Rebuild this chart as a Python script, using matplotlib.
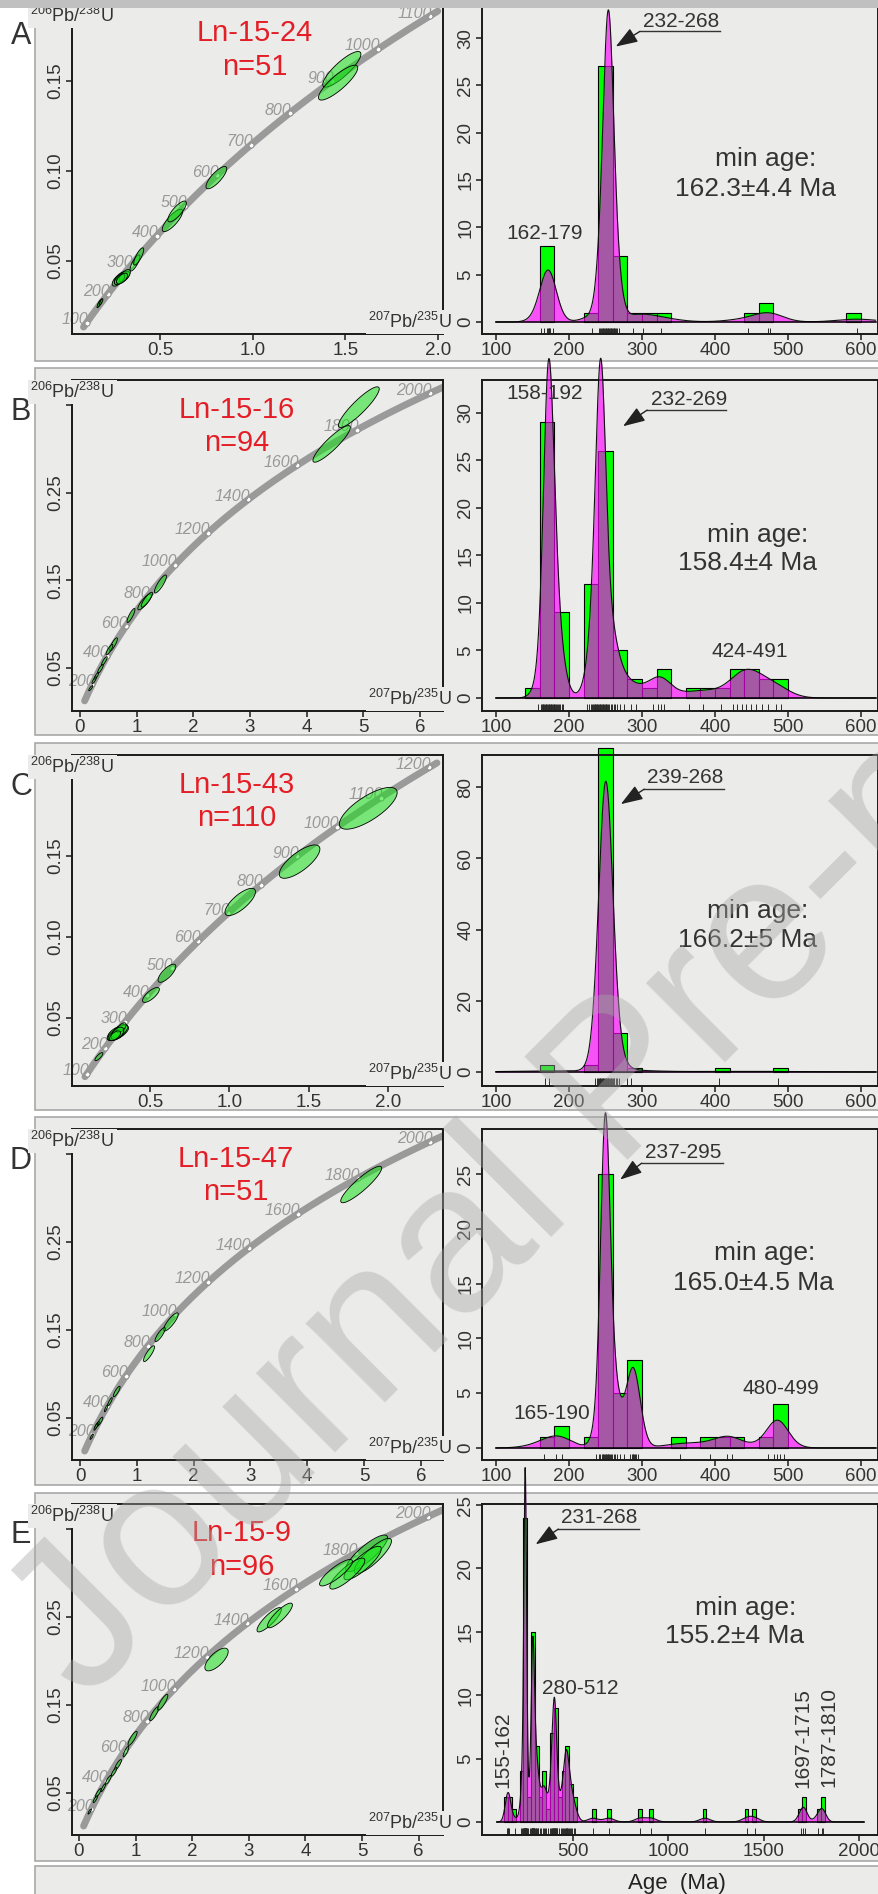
import numpy as np
import matplotlib
matplotlib.use('Agg')
import matplotlib.pyplot as plt
from matplotlib.patches import Rectangle

plt.rcParams['font.family'] = ['Liberation Sans', 'DejaVu Sans']
plt.rcParams['mathtext.fontset'] = 'custom'
plt.rcParams['mathtext.rm'] = 'Liberation Sans'
plt.rcParams['mathtext.it'] = 'Liberation Sans:italic'

W, H = 879, 1894

# ---------------- data ----------------
SAMPLES = ['Ln-15-24', 'Ln-15-16', 'Ln-15-43', 'Ln-15-47', 'Ln-15-9']
N_GRAINS = [51, 94, 110, 51, 96]
MIN_AGES = ['162.3±4.4 Ma', '158.4±4 Ma', '166.2±5 Ma', '165.0±4.5 Ma', '155.2±4 Ma']
MAIN_PEAKS = ['232-268', '232-269', '239-268', '237-295', '231-268']

# detrital zircon ages (Ma) and number of grains at each age
AGES_A = [162, 166, 170, 171, 172, 173, 174, 178, 232,
          241, 243, 244, 245, 246, 247, 248, 249, 250, 251, 252, 253, 254, 255, 256, 257, 258, 259,
          260, 261, 262, 263, 265, 266, 268, 288, 301, 326, 445, 472, 476, 594]
MULT_A = [1, 1, 1, 1, 1, 1, 1, 1, 1,
          1, 1, 1, 1, 1, 1, 1, 1, 2, 2, 2, 2, 2, 2, 2, 2, 2, 1,
          1, 1, 1, 1, 1, 1, 1, 1, 1, 1, 1, 1, 1, 1]

AGES_B = [157, 161, 163, 164, 165, 166, 167, 168, 169, 170, 171, 172, 173, 174, 175, 176, 177, 178, 179,
          180, 181, 182, 183, 185, 186, 188, 190, 192,
          225, 228, 230, 232, 233, 234, 235, 236, 237, 238, 239,
          240, 241, 242, 243, 244, 245, 246, 247, 248, 249, 250, 251, 252, 253, 255, 257, 259,
          261, 263, 266, 270, 276, 285, 292, 315, 322, 326, 330, 365, 384, 408,
          424, 430, 437, 443, 450, 456, 464, 472, 483, 491]
MULT_B = [1, 1, 1, 1, 1, 1, 2, 2, 2, 2, 2, 2, 2, 2, 2, 1, 2, 1, 2,
          1, 1, 1, 1, 1, 1, 1, 1, 1,
          1, 1, 1, 1, 1, 1, 1, 1, 1, 1, 2,
          2, 2, 2, 2, 2, 2, 2, 2, 2, 1, 1, 1, 1, 1, 1, 1, 1,
          1, 1, 1, 1, 1, 1, 1, 1, 1, 1, 1, 1, 1, 1,
          1, 1, 1, 1, 1, 1, 1, 1, 1, 1]

AGES_C = [167, 172, 236, 239,
          240, 241, 242, 243, 244, 245, 246, 247, 248, 249, 250, 251, 252, 253, 254, 255, 256, 257, 258, 259,
          260, 261, 262, 264, 266, 268, 279, 285, 405, 486]
MULT_C = [1, 1, 1, 1,
          2, 2, 3, 3, 4, 5, 5, 6, 6, 7, 7, 7, 6, 6, 5, 5, 4, 3, 3, 2,
          3, 2, 2, 1, 1, 1, 1, 1, 1, 1]

AGES_D = [166, 182, 190, 237,
          241, 243, 245, 246, 247, 248, 249, 250, 251, 252, 253, 254, 255, 256, 258, 259,
          261, 263, 266, 270, 276, 284, 286, 287, 288, 289, 290, 292, 295,
          352, 393, 417, 423, 472, 481, 485, 489, 495]
MULT_D = [1, 1, 1, 1,
          1, 1, 2, 2, 2, 2, 2, 2, 2, 2, 2, 1, 1, 1, 1, 1,
          1, 1, 1, 1, 1, 1, 1, 1, 1, 1, 1, 1, 1,
          1, 1, 1, 1, 1, 1, 1, 1, 1]

AGES_E = [155, 158, 161, 162, 195, 228, 232, 236, 238,
          241, 243, 245, 246, 247, 248, 249, 250, 251, 252, 253, 254, 255, 257, 259,
          265, 272, 281, 283, 284, 285, 286, 287, 288, 289, 290, 291, 292, 293, 294, 296, 298,
          302, 305, 308, 311, 314, 318, 325, 334, 343, 348, 352, 357, 370,
          381, 385, 388, 391, 394, 396, 399, 400, 402, 404, 405, 407, 409, 411, 414, 418,
          425, 435, 444, 449, 453, 458, 461, 464, 467, 470, 474, 478, 483, 489, 496, 505, 512,
          605, 688, 852, 910, 1192, 1412, 1452, 1697, 1708, 1715, 1787, 1805, 1810]
MULT_E = [1, 1, 1, 1, 1, 1, 1, 1, 1,
          1, 1, 2, 2, 2, 2, 2, 2, 2, 2, 2, 1, 1, 1, 1,
          1, 1, 1, 1, 1, 1, 1, 1, 1, 1, 1, 1, 1, 1, 1, 1, 1,
          1, 1, 1, 1, 1, 1, 1, 1, 1, 1, 1, 1, 1,
          1, 1, 1, 1, 1, 1, 1, 1, 1, 1, 1, 1, 1, 1, 1, 1,
          1, 1, 1, 1, 1, 1, 1, 1, 1, 1, 1, 1, 1, 1, 1, 1, 1,
          1, 1, 1, 1, 1, 1, 1, 1, 1, 1, 1, 1, 1]

# concordia error ellipses: 207Pb/235U, 206Pb/238U, half-extent x, half-extent y, rho
ELL_A = [(1.481, 0.1565, 0.103, 0.0099, 0.85), (1.461, 0.1491, 0.106, 0.0097, 0.85),
         (0.804, 0.0963, 0.056, 0.0062, 0.8), (0.567, 0.0725, 0.055, 0.0062, 0.8),
         (0.592, 0.0775, 0.050, 0.0058, 0.8), (0.365, 0.0489, 0.027, 0.0045, 0.8),
         (0.385, 0.0525, 0.027, 0.0048, 0.8), (0.272, 0.0392, 0.030, 0.0032, 0.6),
         (0.288, 0.0405, 0.035, 0.0035, 0.6), (0.300, 0.0410, 0.035, 0.0033, 0.6),
         (0.310, 0.0418, 0.030, 0.0034, 0.6), (0.282, 0.0398, 0.028, 0.0030, 0.6),
         (0.295, 0.0402, 0.030, 0.0030, 0.6), (0.176, 0.0267, 0.012, 0.0022, 0.8),
         (0.170, 0.0260, 0.010, 0.0020, 0.8), (0.182, 0.0272, 0.010, 0.0018, 0.8)]
ELL_B = [(4.92, 0.348, 0.36, 0.0232, 0.9), (4.44, 0.306, 0.33, 0.0209, 0.9),
         (1.42, 0.146, 0.106, 0.0103, 0.85), (1.14, 0.1256, 0.12, 0.0091, 0.85),
         (1.18, 0.128, 0.10, 0.0085, 0.85), (0.90, 0.110, 0.07, 0.008, 0.85),
         (0.59, 0.077, 0.07, 0.0075, 0.85), (0.52, 0.071, 0.06, 0.006, 0.85),
         (0.43, 0.058, 0.05, 0.005, 0.85), (0.36, 0.049, 0.05, 0.005, 0.85),
         (0.29, 0.041, 0.04, 0.004, 0.85), (0.25, 0.036, 0.04, 0.004, 0.85),
         (0.19, 0.027, 0.035, 0.003, 0.85)]
ELL_C = [(1.876, 0.1794, 0.182, 0.0129, 0.75), (1.443, 0.1465, 0.128, 0.0103, 0.75),
         (1.069, 0.1216, 0.096, 0.0084, 0.75), (0.607, 0.0776, 0.056, 0.0056, 0.75),
         (0.506, 0.0642, 0.053, 0.0046, 0.75), (0.290, 0.0400, 0.060, 0.0040, 0.6),
         (0.300, 0.0412, 0.065, 0.0043, 0.6), (0.310, 0.0420, 0.050, 0.0040, 0.6),
         (0.285, 0.0395, 0.050, 0.0035, 0.6), (0.320, 0.0440, 0.030, 0.0030, 0.6),
         (0.295, 0.0405, 0.040, 0.0038, 0.5), (0.280, 0.0390, 0.035, 0.0030, 0.6),
         (0.178, 0.0261, 0.025, 0.0025, 0.8)]
ELL_D = [(4.95, 0.315, 0.36, 0.0207, 0.9), (1.60, 0.159, 0.13, 0.0103, 0.85),
         (1.41, 0.1446, 0.09, 0.008, 0.85), (1.215, 0.123, 0.097, 0.009, 0.85),
         (0.646, 0.080, 0.06, 0.006, 0.85), (0.528, 0.0686, 0.04, 0.0045, 0.85),
         (0.46, 0.061, 0.03, 0.004, 0.85), (0.352, 0.046, 0.05, 0.005, 0.85),
         (0.30, 0.042, 0.04, 0.004, 0.85), (0.28, 0.040, 0.035, 0.004, 0.85),
         (0.206, 0.0287, 0.03, 0.003, 0.85)]
ELL_E = [(5.08, 0.322, 0.37, 0.0208, 0.85), (5.19, 0.319, 0.33, 0.020, 0.85),
         (5.01, 0.311, 0.33, 0.019, 0.85), (4.74, 0.299, 0.31, 0.0176, 0.85),
         (4.54, 0.300, 0.29, 0.015, 0.85), (3.36, 0.2466, 0.215, 0.0138, 0.85),
         (3.55, 0.2515, 0.22, 0.0140, 0.85), (2.43, 0.2015, 0.206, 0.0129, 0.7),
         (1.33, 0.140, 0.08, 0.008, 0.85), (1.48, 0.153, 0.09, 0.009, 0.85),
         (0.947, 0.112, 0.08, 0.008, 0.85), (0.83, 0.097, 0.05, 0.006, 0.85),
         (0.69, 0.082, 0.06, 0.006, 0.85), (0.62, 0.074, 0.05, 0.005, 0.85),
         (0.52, 0.065, 0.05, 0.005, 0.85), (0.43, 0.056, 0.04, 0.0045, 0.85),
         (0.34, 0.050, 0.05, 0.005, 0.85), (0.29, 0.043, 0.04, 0.004, 0.85),
         (0.19, 0.029, 0.03, 0.003, 0.85)]

# ---------------- layout (pixels of the 879x1894 figure) ----------------
ROWS = [
    dict(letter='A', letter_y=36, box=(-2, 361), top=4, bot=334, red_y=(33, 67), red_x=255,
         cxlim=(0.025, 2.027), cylim=(0.0094, 0.1928), cxt=[0.5, 1.0, 1.5, 2.0], cyt=[0.05, 0.10, 0.15],
         cyl=['0.05', '0.10', '0.15'], tspan=(85, 1115), lab_ages=list(range(100, 1101, 100)),
         hxlim=(80.8, 623.3), hylim=(-1.27, 33.6), hyt=[0, 5, 10, 15, 20, 25, 30],
         hxt=[100, 200, 300, 400, 500, 600], gend=620, h=8,
         peaks=[('162-179', 166, 9.4, 0)], main=(301.8, 31.8, 297, 407, 30.7, 264, 29.1),
         minpos=((470, 17.2), (456, 14.1))),
    dict(letter='B', letter_y=412, box=(368, 735), top=380, bot=711, red_y=(410, 443), red_x=236.5,
         cxlim=(-0.141, 6.405), cylim=(0.0009, 0.379), cxt=[0, 1, 2, 3, 4, 5, 6], cyt=[0.05, 0.15, 0.25, 0.35],
         cyl=['0.05', '0.15', '0.25', ''], tspan=(80, 2040), lab_ages=list(range(200, 2001, 200)),
         hxlim=(80.8, 623.3), hylim=(-1.37, 33.47), hyt=[0, 5, 10, 15, 20, 25, 30],
         hxt=[100, 200, 300, 400, 500, 600], gend=620, h=7,
         peaks=[('158-192', 167, 32.1, 0), ('424-491', 448, 4.9, 0)],
         main=(312, 31.4, 307, 415, 30.3, 274, 28.6), minpos=((459, 17.2), (444, 14.2))),
    dict(letter='C', letter_y=787, box=(743, 1110), top=755, bot=1086, red_y=(785, 818), red_x=237,
         cxlim=(0.0085, 2.347), cylim=(0.008, 0.2123), cxt=[0.5, 1.0, 1.5, 2.0], cyt=[0.05, 0.10, 0.15, 0.20],
         cyl=['0.05', '0.10', '0.15', ''], tspan=(88, 1215), lab_ages=list(range(100, 1201, 100)),
         hxlim=(80.8, 623.3), hylim=(-3.92, 89.0), hyt=[0, 20, 40, 60, 80],
         hxt=[100, 200, 300, 400, 500, 600], gend=620, h=9.5,
         peaks=[], main=(307, 82.7, 303, 413, 79.4, 271, 75.2), minpos=((459, 45.1), (444, 37.2))),
    dict(letter='D', letter_y=1161, box=(1117, 1485), top=1129, bot=1460, red_y=(1159, 1192), red_x=236,
         cxlim=(-0.141, 6.39), cylim=(0.0023, 0.378), cxt=[0, 1, 2, 3, 4, 5, 6], cyt=[0.05, 0.15, 0.25, 0.35],
         cyl=['0.05', '0.15', '0.25', ''], tspan=(80, 2040), lab_ages=list(range(200, 2001, 200)),
         hxlim=(80.8, 623.3), hylim=(-1.10, 29.12), hyt=[0, 5, 10, 15, 20, 25],
         hxt=[100, 200, 300, 400, 500, 600], gend=620, h=8,
         peaks=[('165-190', 176, 3.1, 0), ('480-499', 490, 5.4, 0)],
         main=(303.7, 27.0, 299.5, 411, 26.0, 270, 24.5), minpos=((467.5, 17.8), (452.5, 15.1))),
    dict(letter='E', letter_y=1535, box=(1493, 1861), top=1504, bot=1835, red_y=(1533, 1567), red_x=242,
         cxlim=(-0.123, 6.43), cylim=(0.0023, 0.378), cxt=[0, 1, 2, 3, 4, 5, 6], cyt=[0.05, 0.15, 0.25, 0.35],
         cyl=['0.05', '0.15', '0.25', ''], tspan=(80, 2040), lab_ages=list(range(200, 2001, 200)),
         hxlim=(22.7, 2099.6), hylim=(-1.03, 25.08), hyt=[0, 5, 10, 15, 20, 25],
         hxt=[500, 1000, 1500, 2000], gend=2025, h=10,
         peaks=[('280-512', 537, 10.5, 0), ('155-162', 132, 5.7, 90),
                ('1697-1715', 1706, 6.6, 90), ('1787-1810', 1842, 6.7, 90)],
         main=(437, 24.0, 423, 848, 23.1, 304, 21.9), minpos=((1404, 16.9), (1348, 14.7))),
]
AGES = [(AGES_A, MULT_A), (AGES_B, MULT_B), (AGES_C, MULT_C), (AGES_D, MULT_D), (AGES_E, MULT_E)]
ELLS = [ELL_A, ELL_B, ELL_C, ELL_D, ELL_E]

BG = '#ebecea'
TXT = '#333333'
L235, L238 = 9.8485e-4, 1.55125e-4


def concordia(t):
    return np.expm1(L235 * t), np.expm1(L238 * t)


def adaptive_kde(a, grid, h):
    def gauss(x, mu, s):
        z = (x[:, None] - mu[None, :]) / s[None, :]
        return np.exp(-0.5 * z * z) / (np.sqrt(2 * np.pi) * s[None, :])
    pilot = gauss(a, a, np.full(a.size, float(h))).mean(axis=1)
    g = np.exp(np.log(pilot).mean())
    lam = np.sqrt(g / pilot)
    return gauss(grid, a, h * lam).mean(axis=1)


fig = plt.figure(figsize=(W / 100, H / 100), dpi=100)
fig.patch.set_facecolor('white')


def px_axes(x0, y0, x1, y1):
    return fig.add_axes([x0 / W, 1 - y1 / H, (x1 - x0) / W, (y1 - y0) / H])


def fxy(px, py):
    return px / W, 1 - py / H


def style(ax):
    ax.set_facecolor('none')
    for s in ax.spines.values():
        s.set_linewidth(1.4)
        s.set_color('#1a1a1a')
    ax.tick_params(direction='out', length=4, width=1.1, labelsize=13.5, pad=1.5,
                   colors='#1a1a1a', labelcolor=TXT)


tt = np.linspace(0, 2 * np.pi, 90)

for i, r in enumerate(ROWS):
    # panel box
    y0, y1 = r['box']
    fig.add_artist(Rectangle(fxy(35, y1), (890 - 35) / W, (y1 - y0) / H, transform=fig.transFigure,
                             fc=BG, ec='#a8a8a8', lw=1.2, zorder=-5))
    fig.text(*fxy(21, r['letter_y']), r['letter'], fontsize=22, color=TXT, ha='center', va='center')

    # ---- concordia ----
    ax = px_axes(72, r['top'], 443, r['bot'])
    style(ax)
    t = np.linspace(r['tspan'][0], r['tspan'][1], 400)
    cx, cy = concordia(t)
    ax.plot(cx, cy, color='#9a9a9a', lw=5, solid_capstyle='round', zorder=1)
    la = np.array(r['lab_ages'], float)
    lx, ly = concordia(la)
    ax.plot(lx, ly, 'o', ms=3.6, mfc='white', mec='#8c8c8c', mew=0.7, zorder=2)
    for a, xx, yy in zip(r['lab_ages'], lx, ly):
        ax.annotate(str(a), (xx, yy), xytext=(1.5, -1), textcoords='offset points', ha='right',
                    va='baseline', fontsize=11.5, style='italic', color='#999999', zorder=2)
    for (ex0, ey0, sx, sy, rho) in ELLS[i]:
        ex = ex0 + sx * np.cos(tt)
        ey = ey0 + sy * (rho * np.cos(tt) + np.sqrt(1 - rho * rho) * np.sin(tt))
        ax.fill(ex, ey, fc=(0.1, 0.88, 0.1, 0.55), ec='black', lw=0.6, zorder=3)
    ax.set_xlim(*r['cxlim'])
    ax.set_ylim(*r['cylim'])
    ax.set_xticks(r['cxt'])
    ax.set_xticklabels([('%.1f' % v) if r['cxt'][0] == 0.5 else str(v) for v in r['cxt']])
    ax.set_yticks(r['cyt'])
    ax.set_yticklabels(r['cyl'], rotation=90, va='center')
    fig.text(*fxy(72.5, r['top'] + 12), r'$^{206}$Pb/$^{238}$U', fontsize=13, color=TXT,
             ha='center', va='center', bbox=dict(fc=BG, ec='none', pad=1.5))
    fig.text(*fxy(452, r['bot'] - 12), r'$^{207}$Pb/$^{235}$U', fontsize=13, color=TXT,
             ha='right', va='center', bbox=dict(fc=BG, ec='none', pad=1.5))
    fig.text(*fxy(r['red_x'], r['red_y'][0]), SAMPLES[i], fontsize=21, color='#e41e26',
             ha='center', va='center')
    fig.text(*fxy(r['red_x'], r['red_y'][1]), 'n=%d' % N_GRAINS[i], fontsize=21, color='#e41e26',
             ha='center', va='center')

    # ---- histogram + KDE ----
    hx = px_axes(482, r['top'], 878, r['bot'])
    style(hx)
    ages, mult = AGES[i]
    a = np.repeat(np.array(ages, float), mult)
    counts, edges = np.histogram(a, bins=np.arange(0, 2101, 20))
    nz = counts > 0
    hx.bar(edges[:-1][nz], counts[nz], width=20, align='edge', color='#00ff00', edgecolor='black',
           lw=0.8, zorder=2, clip_on=False)
    grid = np.linspace(100, r['gend'], 3000)
    dens = adaptive_kde(a, grid, r['h']) * a.size * 20
    hx.fill_between(grid, dens, color='#ff00ff', alpha=0.65, lw=0, zorder=3, clip_on=False)
    hx.plot(grid, dens, color='#111111', lw=0.8, zorder=4, clip_on=False)
    hx.plot([100, r['gend']], [0, 0], color='black', lw=1.1, zorder=4)
    hx.vlines(ages, r['hylim'][0], -0.02 * r['hylim'][1], colors='#2a2a2a', lw=0.7, zorder=1)
    hx.set_xlim(*r['hxlim'])
    hx.set_ylim(*r['hylim'])
    hx.set_xticks(r['hxt'])
    hx.set_yticks(r['hyt'])
    hx.set_yticklabels([str(v) for v in r['hyt']], rotation=90, va='center')

    for s, px, py, rot in r['peaks']:
        hx.text(px, py, s, fontsize=15, color=TXT, ha='center', va='center', rotation=rot, zorder=6)
    tx, ty, u0, u1, uy, ax_, ay_ = r['main']
    hx.text(tx, ty, MAIN_PEAKS[i], fontsize=15, color=TXT, ha='left', va='center', zorder=6)
    hx.plot([u0, u1], [uy, uy], color=TXT, lw=1.0, zorder=6, clip_on=False)
    hx.annotate('', xy=(ax_, ay_), xytext=(u0, uy),
                arrowprops=dict(arrowstyle='-|>,head_length=0.9,head_width=0.32', color='#222222',
                                lw=1.0, shrinkA=0, shrinkB=0, mutation_scale=15), zorder=6)
    (m1x, m1y), (m2x, m2y) = r['minpos']
    hx.text(m1x, m1y, 'min age:', fontsize=19, color=TXT, ha='center', va='center', zorder=6)
    hx.text(m2x, m2y, MIN_AGES[i], fontsize=19, color=TXT, ha='center', va='center', zorder=6)

# bottom strip with the common axis title
fig.add_artist(Rectangle(fxy(35, 1900), (890 - 35) / W, (1900 - 1866) / H, transform=fig.transFigure,
                         fc=BG, ec='#a8a8a8', lw=1.2, zorder=-5))
fig.text(*fxy(677, 1883), 'Age  (Ma)', fontsize=16, color='#222222', ha='center', va='center')

# watermark
fig.text(0.709, 0.4256, 'Journal Pre-proof', fontsize=152, rotation=45, rotation_mode='anchor',
         ha='center', va='center', color='#a8a8a8', alpha=0.42, zorder=10)

# grey band on top
fig.add_artist(Rectangle((0, 1 - 8 / H), 1, 8 / H, transform=fig.transFigure, fc='#c0c0c0',
                         ec='none', zorder=20))

fig.savefig('out.png', dpi=100, facecolor='white')
